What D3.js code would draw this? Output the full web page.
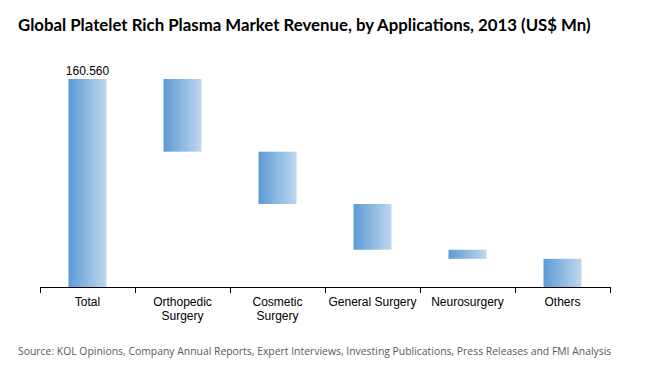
<!DOCTYPE html>
<html>
<head>
<meta charset="utf-8">
<script src="https://cdn.jsdelivr.net/npm/d3@7"></script>
<style>
  body { margin: 0; background: #fff; }
</style>
</head>
<body>
<div id="chart"></div>
<script>
// chart data
var categories = ["Total", "Orthopedic Surgery", "Cosmetic Surgery", "General Surgery", "Neurosurgery", "Others"];
var labelLines = [["Total"], ["Orthopedic", "Surgery"], ["Cosmetic", "Surgery"], ["General Surgery"], ["Neurosurgery"], ["Others"]];
var total = 160.56;
var decrements = [56.1, 40.4, 35.3, 7.0, 21.76];
var totalLabel = "160.560";

var width = 650, height = 370;
var svg = d3.select("#chart").append("svg")
    .attr("width", width).attr("height", height);

// gradient for bars
var grad = svg.append("defs").append("linearGradient")
    .attr("id", "barGrad").attr("x1", "0%").attr("x2", "100%");
grad.append("stop").attr("offset", "0%").attr("stop-color", "#5b9bd5");
grad.append("stop").attr("offset", "100%").attr("stop-color", "#bfd7ee");

svg.append("text")
    .attr("x", 18).attr("y", 31)
    .attr("font-family", "Lato, 'Open Sans', sans-serif")
    .attr("font-weight", "bold")
    .attr("font-size", 16.8)
    .attr("fill", "#000")
    .text("Global Platelet Rich Plasma Market Revenue, by Applications, 2013 (US$ Mn)");

var x = d3.scaleBand().domain(categories).range([40, 610]).paddingInner(0).paddingOuter(0);
var y = d3.scaleLinear().domain([0, total]).range([287, 79]);

// build waterfall segments
var bars = [{cat: categories[0], start: 0, end: total}];
var running = total;
decrements.forEach(function (d, i) {
    bars.push({cat: categories[i + 1], start: running - d, end: running});
    running -= d;
});

var barW = 38;
svg.selectAll("rect.bar")
    .data(bars)
    .enter().append("rect")
    .attr("class", "bar")
    .attr("x", function (d) { return x(d.cat) + x.bandwidth() / 2 - barW / 2; })
    .attr("y", function (d) { return y(d.end); })
    .attr("width", barW)
    .attr("height", function (d) { return y(d.start) - y(d.end); })
    .attr("fill", "url(#barGrad)");

svg.append("text")
    .attr("x", x(categories[0]) + x.bandwidth() / 2)
    .attr("y", y(total) - 4)
    .attr("text-anchor", "middle")
    .attr("font-family", "'Liberation Sans', Arial, sans-serif")
    .attr("font-size", 12)
    .text(totalLabel);

// axis
var axisY = y(0);
svg.append("line")
    .attr("x1", 40).attr("x2", 610)
    .attr("y1", axisY + 0.5).attr("y2", axisY + 0.5)
    .attr("stroke", "#000").attr("stroke-width", 1);

var tickXs = categories.map(function (c) { return x(c); }).concat([x.range()[1]]);
svg.selectAll("line.tick")
    .data(tickXs)
    .enter().append("line")
    .attr("x1", function (d) { return Math.round(d) + 0.5; })
    .attr("x2", function (d) { return Math.round(d) + 0.5; })
    .attr("y1", axisY).attr("y2", axisY + 6)
    .attr("stroke", "#000");

var labels = svg.selectAll("text.cat")
    .data(categories)
    .enter().append("text")
    .attr("class", "cat")
    .attr("text-anchor", "middle")
    .attr("font-family", "'Liberation Sans', Arial, sans-serif")
    .attr("font-size", 12)
    .attr("fill", "#000");
labels.each(function (c, i) {
    var t = d3.select(this);
    labelLines[i].forEach(function (line, j) {
        t.append("tspan")
            .attr("x", x(c) + x.bandwidth() / 2)
            .attr("y", axisY + 19 + j * 14)
            .text(line);
    });
});

svg.append("text")
    .attr("x", 18).attr("y", 355)
    .attr("font-family", "'Open Sans', sans-serif")
    .attr("font-size", 10.4)
    .attr("fill", "#595959")
    .text("Source: KOL Opinions, Company Annual Reports, Expert Interviews, Investing Publications, Press Releases and FMI Analysis");
</script>
</body>
</html>
